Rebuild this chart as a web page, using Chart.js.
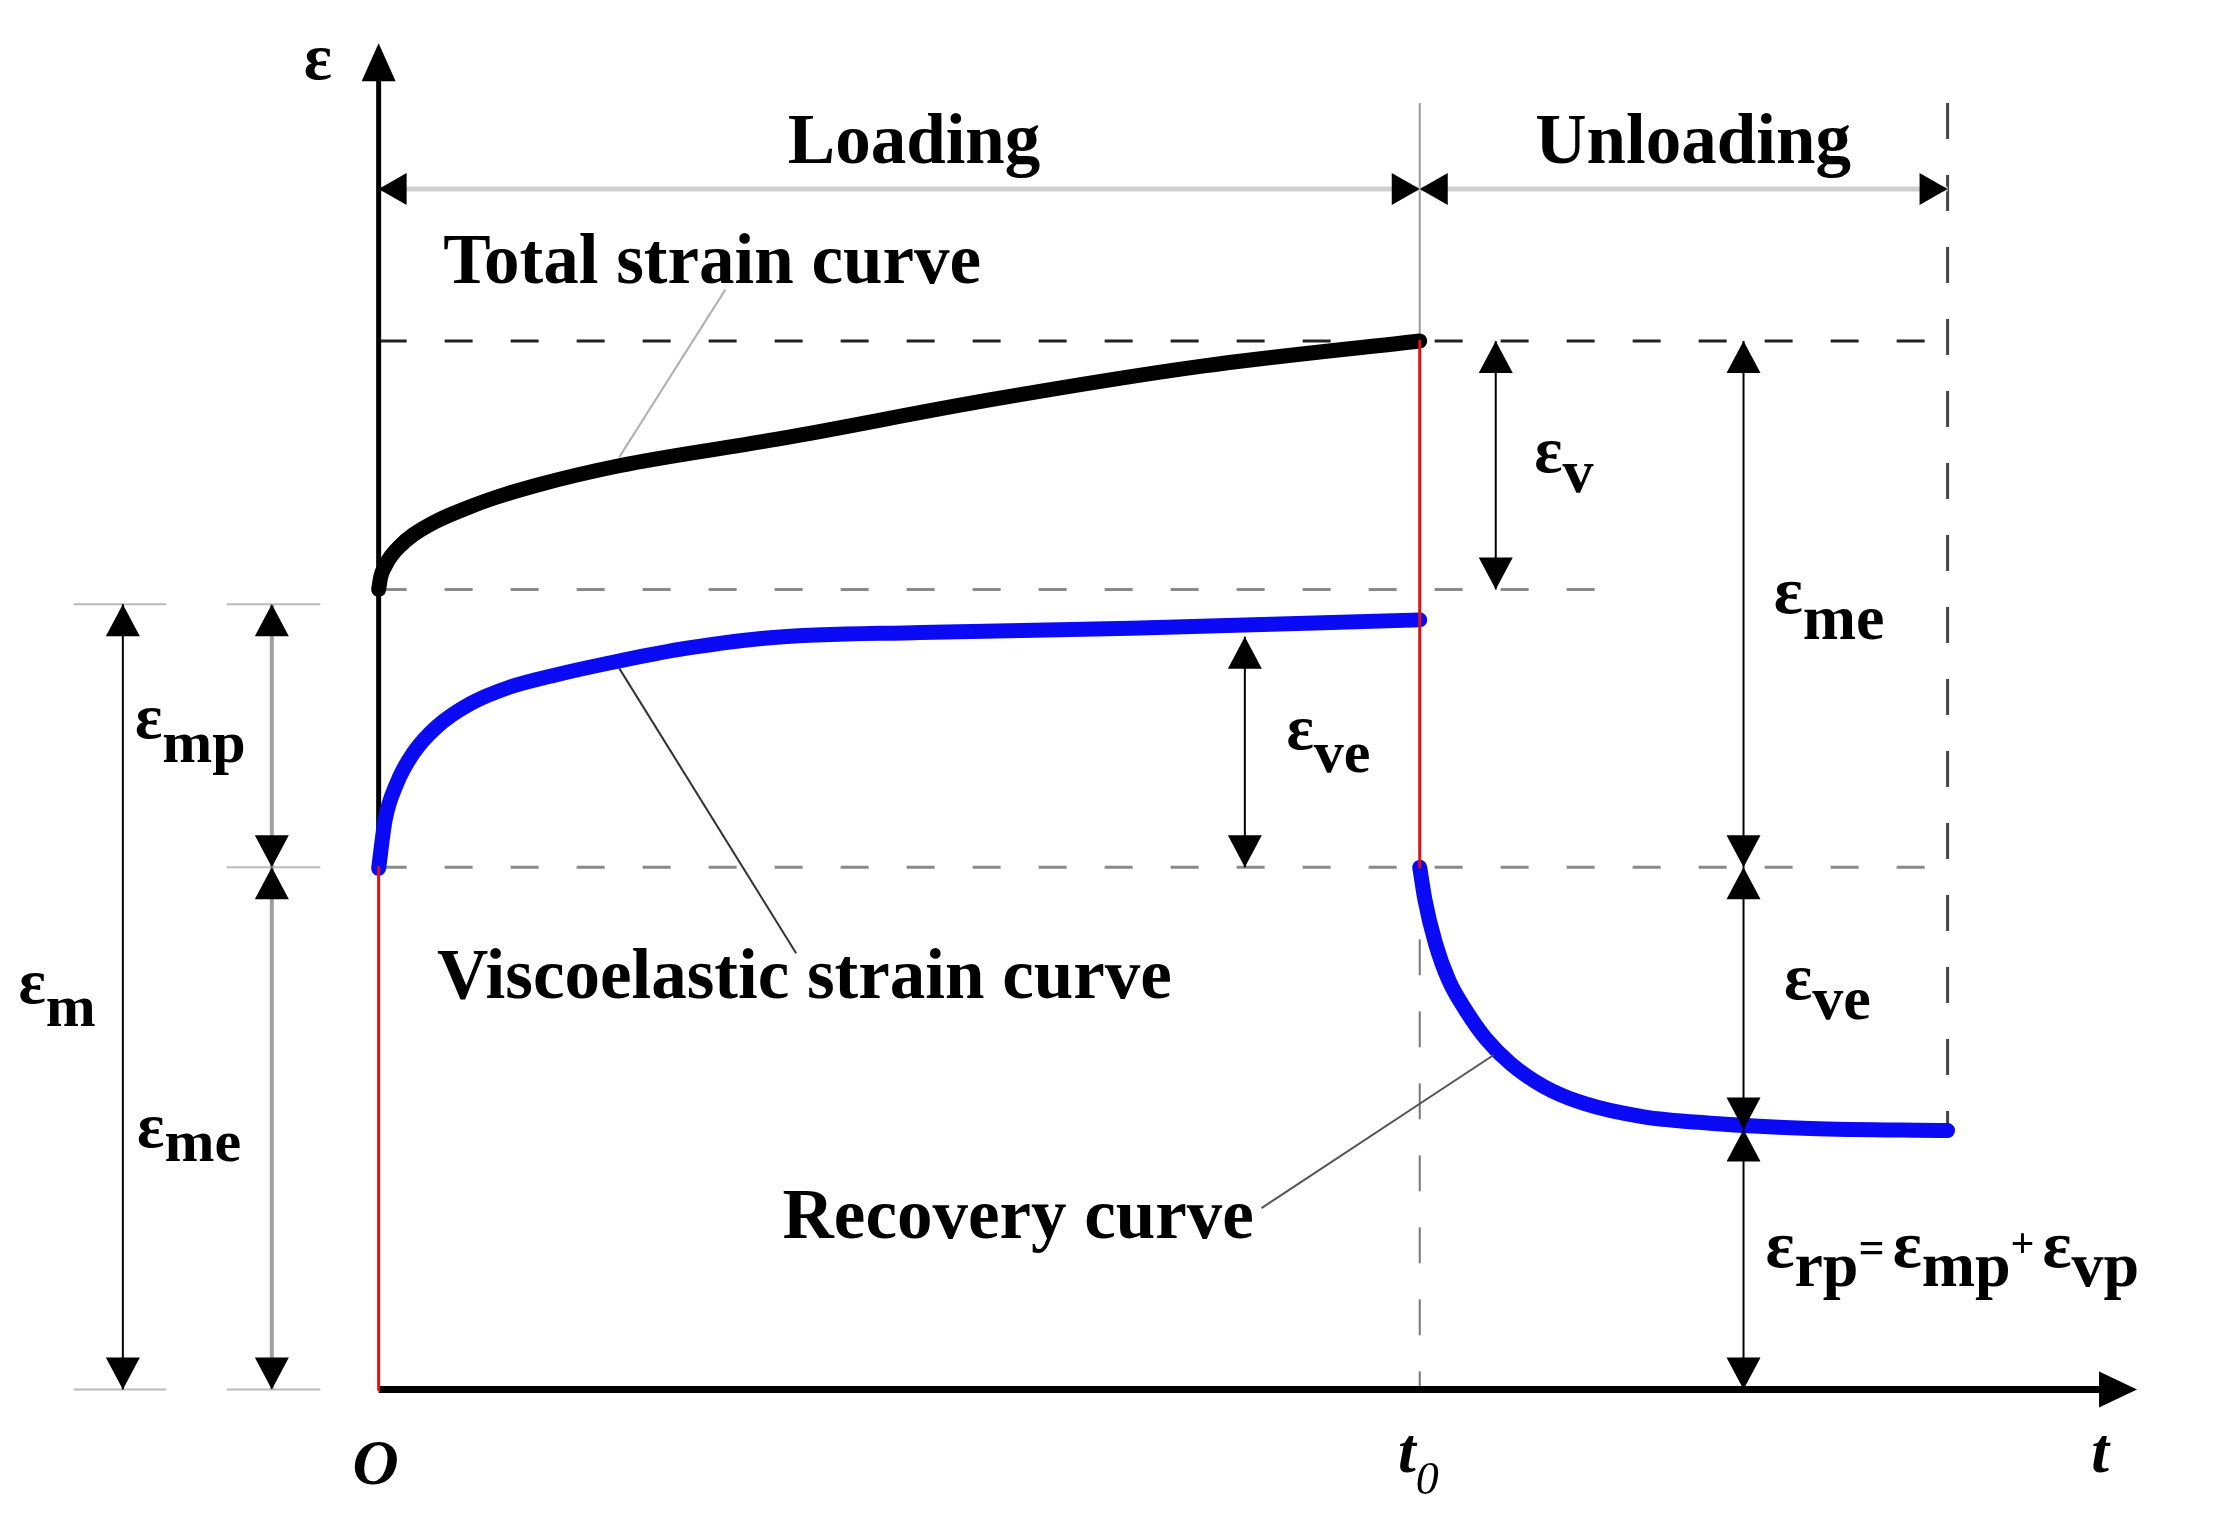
<!DOCTYPE html>
<html>
<head>
<meta charset="utf-8">
<script src="https://cdn.jsdelivr.net/npm/chart.js@4/dist/chart.umd.min.js"></script>
<style>
  html, body { margin: 0; padding: 0; background: #fff; }
  #wrap { width: 2237px; height: 1524px; }
</style>
</head>
<body>
<div id="wrap"><canvas id="chart" width="2237" height="1524"></canvas></div>
<script>
// t: t0 = 10 ; strain: total strain at t0 = 10
const totalT = [0, 0.02, 0.06, 0.12, 0.2, 0.33, 0.55, 0.83, 1.1, 1.5, 2.31, 3.87, 5.88, 7.91, 10];
const totalE = [7.63, 7.75, 7.85, 7.95, 8.04, 8.15, 8.28, 8.4, 8.5, 8.62, 8.81, 9.07, 9.44, 9.76, 10];
const veT = [0, 0.062, 0.174, 0.333, 0.558, 0.879, 1.262, 1.679, 2.32, 2.96, 3.76, 5.21, 7.23, 10];
const veE = [4.97, 5.43, 5.78, 6.07, 6.32, 6.54, 6.7, 6.81, 6.95, 7.07, 7.17, 7.22, 7.26, 7.34];
const recT = [10, 10.05, 10.15, 10.28, 10.44, 10.64, 10.87, 11.19, 11.57, 12.15, 12.79, 13.75, 15.07];
const recE = [4.98, 4.67, 4.26, 3.9, 3.62, 3.34, 3.11, 2.89, 2.73, 2.6, 2.54, 2.49, 2.47];

const t0 = 10, tEnd = 15.07, tAxis = 16.89;
const epsTop = 10, epsV0 = 7.63, epsM = 7.49, epsMe = 4.98, epsRp = 2.48;
const epsAxis = 12.84, loadY = 11.45;

const FONT = '"Liberation Serif", "Times New Roman", serif';

function pts(xs, ys) {
  return xs.map((x, i) => ({ x: x, y: ys[i] }));
}

function px(chart, x, y) {
  return [chart.scales.x.getPixelForValue(x), chart.scales.y.getPixelForValue(y)];
}

function seg(ctx, chart, x1, y1, x2, y2, color, width, dash) {
  const a = px(chart, x1, y1), b = px(chart, x2, y2);
  ctx.save();
  ctx.strokeStyle = color;
  ctx.lineWidth = width;
  ctx.setLineDash(dash || []);
  ctx.beginPath();
  ctx.moveTo(a[0], a[1]);
  ctx.lineTo(b[0], b[1]);
  ctx.stroke();
  ctx.restore();
}

function head(ctx, chart, x, y, dir, len, wid) {
  const p = px(chart, x, y);
  const dx = { left: -1, right: 1, up: 0, down: 0 }[dir];
  const dy = { left: 0, right: 0, up: -1, down: 1 }[dir];
  const bx = p[0] - dx * len, by = p[1] - dy * len;
  ctx.save();
  ctx.fillStyle = "#000";
  ctx.beginPath();
  ctx.moveTo(p[0], p[1]);
  ctx.lineTo(bx + dy * wid / 2, by + dx * wid / 2);
  ctx.lineTo(bx - dy * wid / 2, by - dx * wid / 2);
  ctx.closePath();
  ctx.fill();
  ctx.restore();
}

function vdim(ctx, chart, x, yLow, yHigh, color, width) {
  seg(ctx, chart, x, yLow, x, yHigh, color, width);
  head(ctx, chart, x, yHigh, "up", 32, 34);
  head(ctx, chart, x, yLow, "down", 32, 34);
}

function rich(ctx, chart, x, y, parts) {
  let p = px(chart, x, y);
  let cx = p[0];
  ctx.save();
  ctx.fillStyle = "#000";
  ctx.textAlign = "left";
  ctx.textBaseline = "alphabetic";
  parts.forEach((part) => {
    ctx.font = part[3] + " " + part[2] + "px " + FONT;
    ctx.fillText(part[0], cx, p[1] + part[1]);
    cx += ctx.measureText(part[0]).width + (part[4] || 0);
  });
  ctx.restore();
}

function eps(ctx, chart, x, y, sub, dy, size, weight) {
  rich(ctx, chart, x, y, [["ε", 0, size + 4, weight], [sub, dy, size, weight]]);
}

function text(ctx, chart, x, y, s, size, style) {
  const p = px(chart, x, y);
  ctx.save();
  ctx.fillStyle = "#000";
  ctx.font = style + " " + size + "px " + FONT;
  ctx.textAlign = "left";
  ctx.textBaseline = "alphabetic";
  ctx.fillText(s, p[0], p[1]);
  ctx.restore();
}

const guides = {
  id: "guides",
  beforeDatasetsDraw(chart) {
    const ctx = chart.ctx;
    // dashed reference lines
    seg(ctx, chart, 0, epsTop, tEnd, epsTop, "#222", 3, [28, 38]);
    seg(ctx, chart, 0, epsV0, 11.78, epsV0, "#8a8a8a", 3, [28, 38]);
    seg(ctx, chart, 0, epsMe, tEnd, epsMe, "#8a8a8a", 3, [28, 38]);
    seg(ctx, chart, tEnd, 12.27, tEnd, epsRp, "#444", 3, [36, 36]);
    seg(ctx, chart, t0, 12.27, t0, epsTop, "#9a9a9a", 2);
    seg(ctx, chart, t0, epsMe, t0, 0, "#777", 2, [36, 36]);
    // extension lines on the left
    seg(ctx, chart, -2.93, epsM, -2.04, epsM, "#bbb", 2);
    seg(ctx, chart, -1.46, epsM, -0.56, epsM, "#bbb", 2);
    seg(ctx, chart, -1.46, epsMe, -0.56, epsMe, "#bbb", 2);
    seg(ctx, chart, -2.93, 0, -2.04, 0, "#bbb", 2);
    seg(ctx, chart, -1.46, 0, -0.56, 0, "#bbb", 2);
    // loading / unloading span
    seg(ctx, chart, 0, loadY, tEnd, loadY, "#cfcfcf", 5);
    // axes
    seg(ctx, chart, 0, epsMe, 0, epsAxis - 0.3, "#000", 5);
    seg(ctx, chart, 0, 0, tAxis - 0.3, 0, "#000", 7);
  },
  afterDatasetsDraw(chart) {
    const ctx = chart.ctx;
    head(ctx, chart, 0, epsAxis, "up", 38, 34);
    head(ctx, chart, tAxis, 0, "right", 38, 36);

    head(ctx, chart, 0, loadY, "left", 28, 32);
    head(ctx, chart, t0, loadY, "right", 28, 32);
    head(ctx, chart, t0, loadY, "left", 28, 32);
    head(ctx, chart, tEnd, loadY, "right", 28, 32);

    vdim(ctx, chart, -2.457, 0, epsM, "#000", 2);
    vdim(ctx, chart, -1.026, epsMe, epsM, "#a0a0a0", 4);
    vdim(ctx, chart, -1.026, 0, epsMe, "#a0a0a0", 4);
    vdim(ctx, chart, 8.32, epsMe, 7.18, "#000", 2);
    vdim(ctx, chart, 10.73, epsV0, epsTop, "#000", 2);
    vdim(ctx, chart, 13.11, epsMe, epsTop, "#000", 2);
    vdim(ctx, chart, 13.11, epsRp, epsMe, "#000", 2);
    vdim(ctx, chart, 13.11, 0, epsRp, "#000", 2);

    // leader lines
    seg(ctx, chart, 3.33, 10.49, 2.31, 8.89, "#b0b0b0", 2);
    seg(ctx, chart, 2.31, 6.88, 4.01, 4.16, "#333", 2);
    seg(ctx, chart, 8.48, 1.73, 10.71, 3.19, "#555", 2);

    // labels
    text(ctx, chart, 3.93, 11.7, "Loading", 71, "bold");
    text(ctx, chart, 11.11, 11.7, "Unloading", 71, "bold");
    text(ctx, chart, 0.62, 10.55, "Total strain curve", 71, "bold");
    text(ctx, chart, 0.56, 3.73, "Viscoelastic strain curve", 71, "bold");
    text(ctx, chart, 3.88, 1.44, "Recovery curve", 71, "bold");

    text(ctx, chart, -0.72, 12.5, "ε", 66, "bold");
    text(ctx, chart, -0.25, -0.9, "O", 64, "italic bold");
    rich(ctx, chart, 9.79, -0.79, [["t", 0, 64, "italic bold"], ["0", 22, 46, "italic"]]);
    text(ctx, chart, 16.45, -0.79, "t", 64, "italic bold");

    eps(ctx, chart, -3.46, 3.69, "m", 23, 60, "bold");
    eps(ctx, chart, -2.34, 6.21, "mp", 24, 60, "bold");
    eps(ctx, chart, -2.32, 2.31, "me", 14, 60, "bold");
    eps(ctx, chart, 8.72, 6.11, "ve", 23, 60, "bold");
    eps(ctx, chart, 11.1, 8.75, "v", 20, 62, "bold");
    eps(ctx, chart, 13.4, 7.41, "me", 26, 64, "bold");
    eps(ctx, chart, 13.5, 3.72, "ve", 20, 62, "bold");
    rich(ctx, chart, 13.32, 1.17, [
      ["ε", 0, 68, "bold"],
      ["rp", 19, 64, "bold"],
      ["=", -4, 46, "bold", 8],
      ["ε", 0, 68, "bold"],
      ["mp", 19, 64, "bold"],
      ["+", -10, 42, "bold", 8],
      ["ε", 0, 68, "bold"],
      ["vp", 19, 64, "bold"]
    ]);
  }
};

new Chart(document.getElementById("chart"), {
  type: "scatter",
  data: {
    datasets: [
      { data: pts([0, 0], [0, epsMe]), borderColor: "#e01010", borderWidth: 3 },
      { data: pts([t0, t0], [epsTop, epsMe]), borderColor: "#e01010", borderWidth: 3 },
      { data: pts(totalT, totalE), borderColor: "#000", borderWidth: 15, cubicInterpolationMode: "monotone" },
      { data: pts(veT, veE), borderColor: "#0a0af5", borderWidth: 15, cubicInterpolationMode: "monotone" },
      { data: pts(recT, recE), borderColor: "#0a0af5", borderWidth: 15, cubicInterpolationMode: "monotone" }
    ].map((d) => Object.assign({ showLine: true, pointRadius: 0, borderCapStyle: "round", borderJoinStyle: "round", fill: false }, d))
  },
  options: {
    responsive: false,
    devicePixelRatio: 1,
    animation: false,
    layout: { padding: 0 },
    plugins: { legend: { display: false }, tooltip: { enabled: false } },
    scales: {
      x: { type: "linear", min: -3.637, max: 17.85, display: false },
      y: { type: "linear", min: -1.283, max: 13.252, display: false }
    }
  },
  plugins: [guides]
});
</script>
</body>
</html>
